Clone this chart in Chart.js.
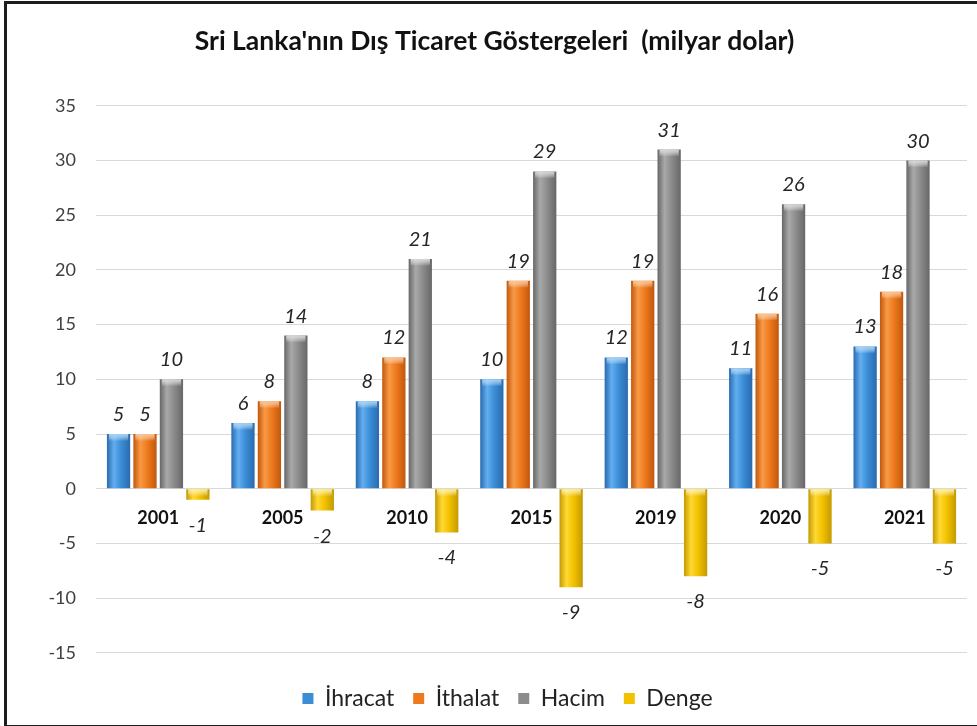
<!DOCTYPE html>
<html><head><meta charset="utf-8">
<script src="https://cdn.jsdelivr.net/npm/chart.js@4"></script>
<style>
html,body{margin:0;padding:0;background:#fff;width:977px;height:726px;overflow:hidden;}
#frame{position:absolute;left:4px;top:1px;width:1000px;height:721px;border:3px solid #1c1c1c;border-right:none;}
#c{position:absolute;left:0;top:0;}
</style></head>
<body>
<div id="frame"></div>
<canvas id="c" width="977" height="726"></canvas>
<script>
const categories = ['2001','2005','2010','2015','2019','2020','2021'];
const ihracat = [5, 6, 8, 10, 12, 11, 13];
const ithalat = [5, 8, 12, 19, 19, 16, 18];
const hacim   = [10, 14, 21, 29, 31, 26, 30];
const denge   = [-1, -2, -4, -9, -8, -5, -5];
const seriesNames = ['İhracat','İthalat','Hacim','Denge'];
const yTicks = [-15,-10,-5,0,5,10,15,20,25,30,35];

const FONT = 'Lato, "Open Sans", sans-serif';
const palette = [
  {base:'#3b8ed6', edge:'#2a6aae', light:'#62aef0', cap:'#9fd0f7'},
  {base:'#ee7a1e', edge:'#c2570c', light:'#f89a45', cap:'#fbc08a'},
  {base:'#8c8c8c', edge:'#676767', light:'#a9a9a9', cap:'#d6d6d6'},
  {base:'#f2c200', edge:'#c49a00', light:'#ffd933', cap:'#fff09a'}
];

const boxShift = {
  id: 'boxShift',
  beforeDraw(chart){
    const l = chart.legend;
    if (l && !l._shifted) { l.left += 20; l.right += 20; l._shifted = true; }
    const t = chart.titleBlock;
    if (t && !t._shifted) { t.left += 7; t.right += 7; t._shifted = true; }
  },
  afterLayout(chart){
    if (chart.legend) chart.legend._shifted = false;
    if (chart.titleBlock) chart.titleBlock._shifted = false;
  }
};

const barStyle = {
  id:'barStyle',
  beforeDatasetsDraw(chart){
    const ctx = chart.ctx;
    chart.data.datasets.forEach((ds, di) => {
      const meta = chart.getDatasetMeta(di);
      const p = palette[di];
      meta.data.forEach(el => {
        const {x, width} = el.getProps(['x','width'], true);
        const g = ctx.createLinearGradient(x - width/2, 0, x + width/2, 0);
        g.addColorStop(0, p.edge);
        g.addColorStop(0.3, p.light);
        g.addColorStop(0.6, p.base);
        g.addColorStop(1, p.edge);
        el.options = Object.assign({}, el.options, {backgroundColor: g});
      });
    });
  },
  afterDatasetsDraw(chart){
    const ctx = chart.ctx;
    ctx.save();
    chart.data.datasets.forEach((ds, di) => {
      const meta = chart.getDatasetMeta(di);
      const p = palette[di];
      meta.data.forEach((el, i) => {
        const {x, y, base, width} = el.getProps(['x','y','base','width'], true);
        const top = Math.min(y, base);
        const g = ctx.createLinearGradient(0, top, 0, top + 7);
        g.addColorStop(0, p.cap);
        g.addColorStop(1, 'rgba(255,255,255,0)');
        ctx.fillStyle = g;
        ctx.fillRect(x - width/2 + 2, top, width - 4, 7);
      });
    });
    // value labels
    ctx.font = 'italic 20px ' + FONT;
    ctx.fillStyle = '#262626';
    ctx.textAlign = 'center';
    ctx.textBaseline = 'alphabetic';
    chart.data.datasets.forEach((ds, di) => {
      const meta = chart.getDatasetMeta(di);
      meta.data.forEach((el, i) => {
        const v = ds.data[i];
        const {x, y} = el.getProps(['x','y'], true);
        if (v >= 0) ctx.fillText(String(v), x, y - 13);
        else ctx.fillText(String(v), x, y + 32);
      });
    });
    ctx.restore();
  }
};

new Chart(document.getElementById('c'), {
  type: 'bar',
  data: {
    labels: categories,
    datasets: [
      {label: seriesNames[0], data: ihracat, backgroundColor: palette[0].base},
      {label: seriesNames[1], data: ithalat, backgroundColor: palette[1].base},
      {label: seriesNames[2], data: hacim,   backgroundColor: palette[2].base},
      {label: seriesNames[3], data: denge,   backgroundColor: palette[3].base}
    ]
  },
  options: {
    responsive: false,
    animation: false,
    datasets: {bar: {categoryPercentage: 0.85, barPercentage: 0.88, borderWidth: 0}},
    layout: {padding: {left: 8, right: 10, top: 4, bottom: 6}},
    plugins: {
      title: {
        display: true,
        text: "Sri Lanka'nın Dış Ticaret Göstergeleri  (milyar dolar)",
        color: '#111',
        font: {family: FONT, size: 26.5, weight: 'bold'},
        padding: {top: 22, bottom: 48}
      },
      legend: {
        display: true,
        position: 'bottom',
        title: {display: true, text: ' ', font: {size: 1}, padding: {top: 14, bottom: 0}},
        labels: {
          color: '#222',
          font: {family: FONT, size: 23},
          boxWidth: 11, boxHeight: 11,
          padding: 19
        }
      },
      tooltip: {enabled: false}
    },
    scales: {
      x: {
        position: {y: 0},
        grid: {display: false, drawTicks: false},
        border: {display: false},
        ticks: {color: '#111', font: {family: FONT, size: 18, weight: 'bold'}, padding: 19}
      },
      y: {
        min: -15, max: 35,
        afterFit(scale){ scale.width = 88; },
        afterBuildTicks(scale){ scale.ticks = yTicks.map(v => ({value: v})); },
        grid: {color: '#d9d9d9', lineWidth: 1, drawTicks: false},
        border: {display: false},
        ticks: {color: '#404040', font: {family: FONT, size: 18}, padding: 20}
      }
    }
  },
  plugins: [barStyle, boxShift]
});
</script>
</body></html>
